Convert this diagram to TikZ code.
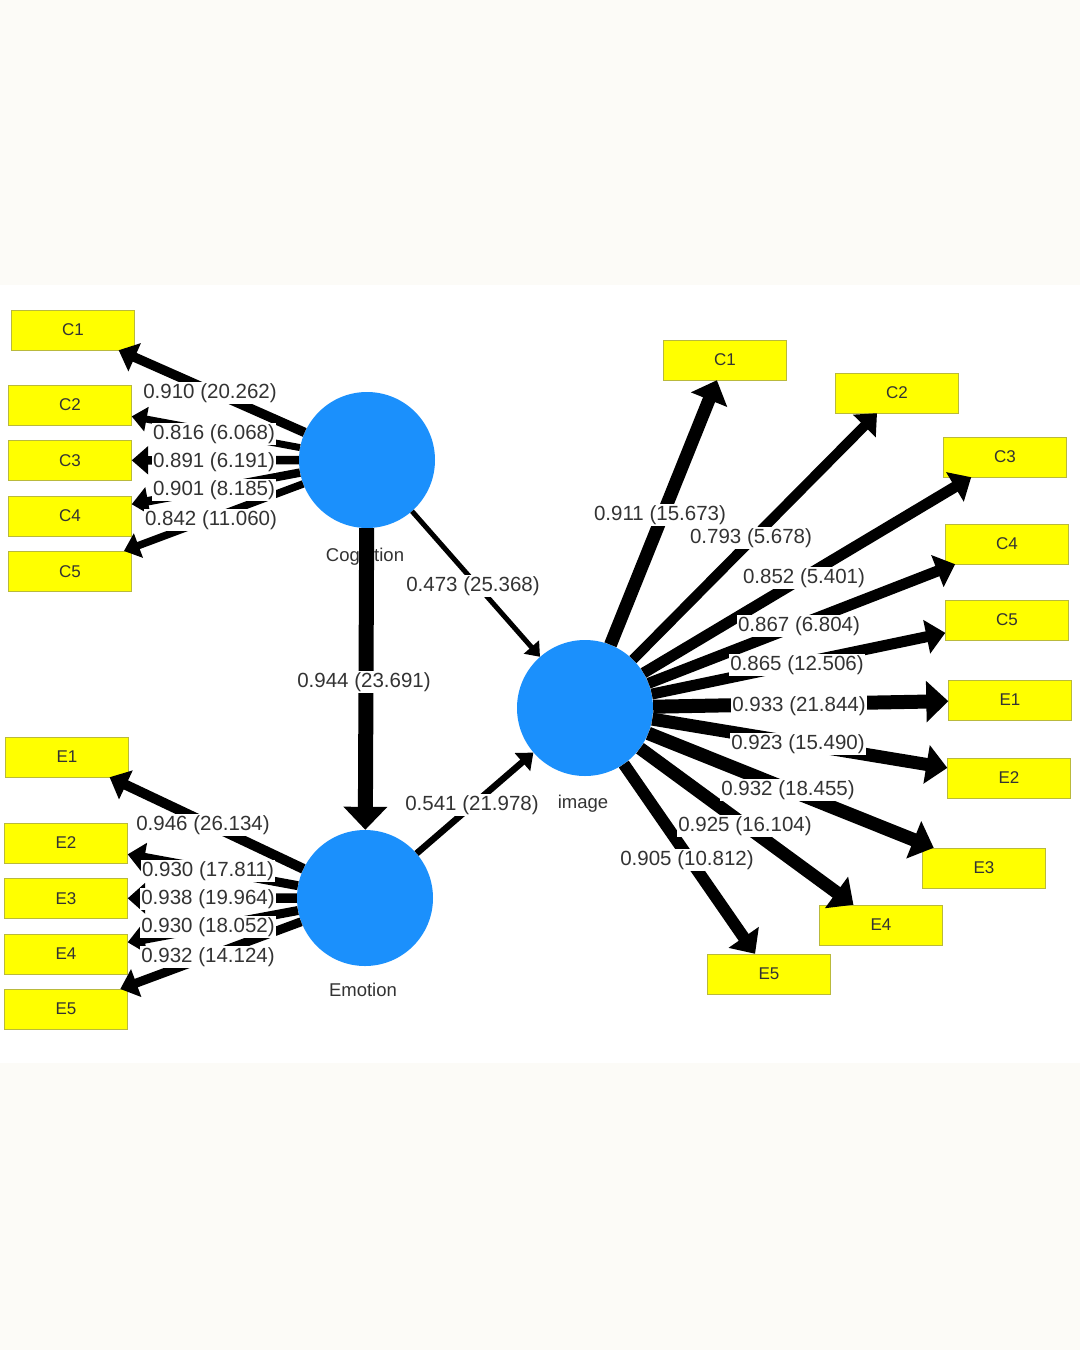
\documentclass[tikz,border=0pt]{standalone}
\usepackage{fontspec}
\setmainfont{Liberation Sans}
\usetikzlibrary{positioning,arrows.meta}
\definecolor{lvblue}{RGB}{27,144,252}
\definecolor{mvyellow}{RGB}{255,255,0}
\definecolor{mvborder}{RGB}{185,185,60}
\definecolor{paper}{RGB}{252,251,247}
\definecolor{ink}{RGB}{51,51,51}

\begin{document}
\begin{tikzpicture}[x=1pt, y=-1pt,
                    lv/.style = {circle, fill=lvblue, minimum size=136pt, inner sep=0pt},
                    mv/.style = {draw=mvborder, fill=mvyellow, minimum width=123pt, minimum height=40pt, inner sep=0pt, text=ink, font=\fontsize{17}{17}\selectfont},
                    lvname/.style = {text=ink, font=\fontsize{18.5}{18.5}\selectfont},
                    coef/.style = {fill=white, inner sep=1.5pt, text=ink, font=\fontsize{20.5}{20.5}\selectfont},
                    load/.style = {line width=#1, -{Triangle[length=8pt 1, width=8pt 2.3]}},
                    node distance={15pt}]
                                    \fill[paper] (0,0) rectangle (1080,1350);
                                    \fill[white] (0,285) rectangle (1080,1063);
                                    \useasboundingbox (0,0) rectangle (1080,1350);
                                    \node[lv] (cog) at (367,460) {};
                                    \node[lv] (emo) at (365,898) {};
                                    \node[lv] (img) at (585,708) {};
                                    \node[lvname] (cogname) at (365,557) {Cognition};
                                    \node[lvname] (emoname) at (363,990) {Emotion};
                                    \node[lvname] (imgname) at (583,804) {image};
                                    \node[mv] (lc1) at (73,330) {C1};
                                    \node[mv] (lc2) at (70,405) {C2};
                                    \node[mv] (lc3) [below=of lc2] {C3};
                                    \node[mv] (lc4) [below=of lc3] {C4};
                                    \node[mv] (lc5) [below=of lc4] {C5};
                                    \node[mv] (le1) at (67,757) {E1};
                                    \node[mv] (le2) at (66,843) {E2};
                                    \node[mv] (le3) [below=of le2] {E3};
                                    \node[mv] (le4) [below=of le3] {E4};
                                    \node[mv] (le5) [below=of le4] {E5};
                                    \node[mv] (rc1) at (725,360) {C1};
                                    \node[mv] (rc2) at (897,393) {C2};
                                    \node[mv] (rc3) at (1005,457) {C3};
                                    \node[mv] (rc4) at (1007,544) {C4};
                                    \node[mv] (rc5) at (1007,620) {C5};
                                    \node[mv] (re1) at (1010,700) {E1};
                                    \node[mv] (re2) at (1009,778) {E2};
                                    \node[mv] (re3) at (984,868) {E3};
                                    \node[mv] (re4) at (881,925) {E4};
                                    \node[mv] (re5) at (769,974) {E5};
                                    \draw[load=15] (cog) -- (emo);
                                    \draw[load=5] (cog) -- (img);
                                    \draw[load=6.5] (emo) -- (img);
                                    \draw[load=9.5] (cog) -- (lc1);
                                    \draw[load=7] (cog) -- (lc2);
                                    \draw[load=8.5] (cog) -- (lc3);
                                    \draw[load=8.5] (cog) -- (lc4);
                                    \draw[load=7.5] (cog) -- (lc5);
                                    \draw[load=10] (emo) -- (le1);
                                    \draw[load=9] (emo) -- (le2);
                                    \draw[load=9.5] (emo) -- (le3);
                                    \draw[load=9] (emo) -- (le4);
                                    \draw[load=9] (emo) -- (le5);
                                    \draw[load=13] (img) -- (rc1);
                                    \draw[load=10] (img) -- (rc2);
                                    \draw[load=11] (img) -- (rc3);
                                    \draw[load=11] (img) -- (rc4);
                                    \draw[load=11] (img) -- (rc5);
                                    \draw[load=14] (img) -- (re1);
                                    \draw[load=13] (img) -- (re2);
                                    \draw[load=13.5] (img) -- (re3);
                                    \draw[load=13] (img) -- (re4);
                                    \draw[load=12] (img) -- (re5);
                                    \node[coef] (c1) at (210,393) {0.910 (20.262)};
                                    \node[coef] (c2) at (214,434) {0.816 (6.068)};
                                    \node[coef] (c3) at (214,462) {0.891 (6.191)};
                                    \node[coef] (c4) at (214,490) {0.901 (8.185)};
                                    \node[coef] (c5) at (211,520) {0.842 (11.060)};
                                    \node[coef] (e1) at (203,825) {0.946 (26.134)};
                                    \node[coef] (e2) at (208,871) {0.930 (17.811)};
                                    \node[coef] (e3) at (208,899) {0.938 (19.964)};
                                    \node[coef] (e4) at (208,927) {0.930 (18.052)};
                                    \node[coef] (e5) at (208,957) {0.932 (14.124)};
                                    \node[coef] (p1) at (364,682) {0.944 (23.691)};
                                    \node[coef] (p2) at (473,586) {0.473 (25.368)};
                                    \node[coef] (p3) at (472,805) {0.541 (21.978)};
                                    \node[coef] (i1) at (660,515) {0.911 (15.673)};
                                    \node[coef] (i2) at (751,538) {0.793 (5.678)};
                                    \node[coef] (i3) at (804,578) {0.852 (5.401)};
                                    \node[coef] (i4) at (799,626) {0.867 (6.804)};
                                    \node[coef] (i5) at (797,665) {0.865 (12.506)};
                                    \node[coef] (i6) at (799,706) {0.933 (21.844)};
                                    \node[coef] (i7) at (798,744) {0.923 (15.490)};
                                    \node[coef] (i8) at (788,790) {0.932 (18.455)};
                                    \node[coef] (i9) at (745,826) {0.925 (16.104)};
                                    \node[coef] (i10) at (687,860) {0.905 (10.812)};
                              \end{tikzpicture}
\end{document}
